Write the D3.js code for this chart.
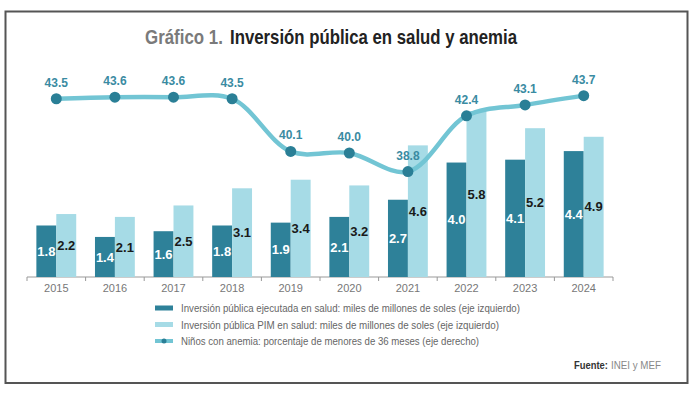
<!DOCTYPE html>
<html>
<head>
<meta charset="utf-8">
<script src="https://cdn.jsdelivr.net/npm/d3@7"></script>
<style>
  body { margin: 0; background: #fff; }
  svg { display: block; font-family: "Liberation Sans Narrow", "Liberation Sans", "Open Sans", sans-serif; }
</style>
</head>
<body>
<svg id="chart"></svg>
<script>
const years = ["2015", "2016", "2017", "2018", "2019", "2020", "2021", "2022", "2023", "2024"];
const ejecutada = [1.8, 1.4, 1.6, 1.8, 1.9, 2.1, 2.7, 4.0, 4.1, 4.4];
const pim = [2.2, 2.1, 2.5, 3.1, 3.4, 3.2, 4.6, 5.8, 5.2, 4.9];
const anemia = [43.5, 43.6, 43.6, 43.5, 40.1, 40.0, 38.8, 42.4, 43.1, 43.7];
const legendLabels = [
  "Inversión pública ejecutada en salud: miles de millones de soles (eje izquierdo)",
  "Inversión pública PIM en salud: miles de millones de soles (eje izquierdo)",
  "Niños con anemia: porcentaje de menores de 36 meses (eje derecho)"
];

const dark = "#2e8199", light = "#a6dbe6", lineCol = "#72c5d4", dotCol = "#2a7f96";

const svg = d3.select("#chart").attr("width", 700).attr("height", 393);

// squeeze a text horizontally so it spans `w` px starting at (x, y)
function narrowText(parent, x, y, w, str) {
  const t = parent.append("text").text(str);
  const natural = t.node().getComputedTextLength();
  const k = Math.min(1, w / natural);
  t.attr("transform", `translate(${x},${y}) scale(${k},1)`);
  return t;
}

// frame
svg.append("rect")
  .attr("x", 5.5).attr("y", 11.5).attr("width", 682).attr("height", 371.5)
  .attr("fill", "none").attr("stroke", "#555").attr("stroke-width", 2);

// title
const tg = svg.append("g").attr("font-size", 21).attr("font-weight", "bold");
narrowText(tg.append("g").attr("fill", "#7a7a7a"), 145, 44, 78, "Gráfico 1.");
narrowText(tg.append("g").attr("fill", "#222"), 230, 44, 287, "Inversión pública en salud y anemia");

const x = d3.scaleBand().domain(years).range([27, 613]).paddingInner(0.32).paddingOuter(0.16);
const yL = d3.scaleLinear().domain([0, 6.5]).range([277, 91]);
const yR = d3.scaleLinear().domain([32, 44]).range([277, 91]);
const bw = x.bandwidth() / 2;

// x axis
const xAxis = svg.append("g").attr("transform", "translate(0,277)");
xAxis.append("line").attr("x1", 27).attr("x2", 613).attr("stroke", "#999").attr("stroke-width", 1);
xAxis.selectAll(".tk").data(d3.range(years.length + 1)).join("line")
  .attr("x1", i => 27 + i * 586 / years.length).attr("x2", i => 27 + i * 586 / years.length)
  .attr("y1", 0).attr("y2", 4).attr("stroke", "#999");
xAxis.selectAll(".yr").data(years).join("text")
  .attr("x", d => x(d) + x.bandwidth() / 2).attr("y", 15)
  .attr("text-anchor", "middle").attr("font-size", 11).attr("fill", "#777")
  .text(d => d);

// bars
const bars = svg.append("g");
bars.selectAll(".b1").data(ejecutada).join("rect")
  .attr("x", (d, i) => x(years[i])).attr("width", bw)
  .attr("y", d => yL(d)).attr("height", d => yL(0) - yL(d)).attr("fill", dark);
bars.selectAll(".b2").data(pim).join("rect")
  .attr("x", (d, i) => x(years[i]) + bw).attr("width", bw)
  .attr("y", d => yL(d)).attr("height", d => yL(0) - yL(d)).attr("fill", light);

bars.selectAll(".l1").data(ejecutada).join("text")
  .attr("x", (d, i) => x(years[i]) + bw / 2).attr("y", d => (yL(d) + yL(0)) / 2)
  .attr("dy", "0.35em").attr("text-anchor", "middle")
  .attr("font-size", 13).attr("font-weight", "bold").attr("fill", "#fff")
  .text(d => d.toFixed(1));
bars.selectAll(".l2").data(pim).join("text")
  .attr("x", (d, i) => x(years[i]) + bw * 1.5).attr("y", d => (yL(d) + yL(0)) / 2)
  .attr("dy", "0.35em").attr("text-anchor", "middle")
  .attr("font-size", 13).attr("font-weight", "bold").attr("fill", "#1a1a1a")
  .text(d => d.toFixed(1));

// anemia line
const cx = i => x(years[i]) + x.bandwidth() / 2;
const line = d3.line().x((d, i) => cx(i)).y(d => yR(d)).curve(d3.curveCatmullRom.alpha(0.5));
svg.append("path").datum(anemia).attr("d", line)
  .attr("fill", "none").attr("stroke", lineCol).attr("stroke-width", 4.5);
svg.selectAll(".dot").data(anemia).join("circle")
  .attr("cx", (d, i) => cx(i)).attr("cy", d => yR(d)).attr("r", 5.5).attr("fill", dotCol);
svg.selectAll(".al").data(anemia).join("text")
  .attr("x", (d, i) => cx(i)).attr("y", d => yR(d) - 12)
  .attr("text-anchor", "middle").attr("font-size", 12).attr("font-weight", "bold").attr("fill", "#3a8ba2")
  .text(d => d.toFixed(1));

// legend
const lg = svg.append("g");
const ly = [308, 324.5, 341];
const lw = [339, 318.5, 298.5];
lg.append("rect").attr("x", 155).attr("y", ly[0] - 2.5).attr("width", 18).attr("height", 5).attr("fill", dark);
lg.append("rect").attr("x", 155).attr("y", ly[1] - 2.5).attr("width", 18).attr("height", 5).attr("fill", light);
lg.append("line").attr("x1", 155).attr("x2", 173).attr("y1", ly[2]).attr("y2", ly[2])
  .attr("stroke", lineCol).attr("stroke-width", 4);
lg.append("circle").attr("cx", 164).attr("cy", ly[2]).attr("r", 2.5).attr("fill", dotCol);
const lt = lg.append("g").attr("font-size", 11).attr("fill", "#666");
legendLabels.forEach((s, i) => narrowText(lt, 181, ly[i] + 4, lw[i], s));

// source
const sg = svg.append("g").attr("font-size", 10.5);
narrowText(sg.append("g").attr("font-weight", "bold").attr("fill", "#333"), 574, 369, 34, "Fuente:");
narrowText(sg.append("g").attr("fill", "#888"), 611, 369, 50, "INEI y MEF");
</script>
</body>
</html>
